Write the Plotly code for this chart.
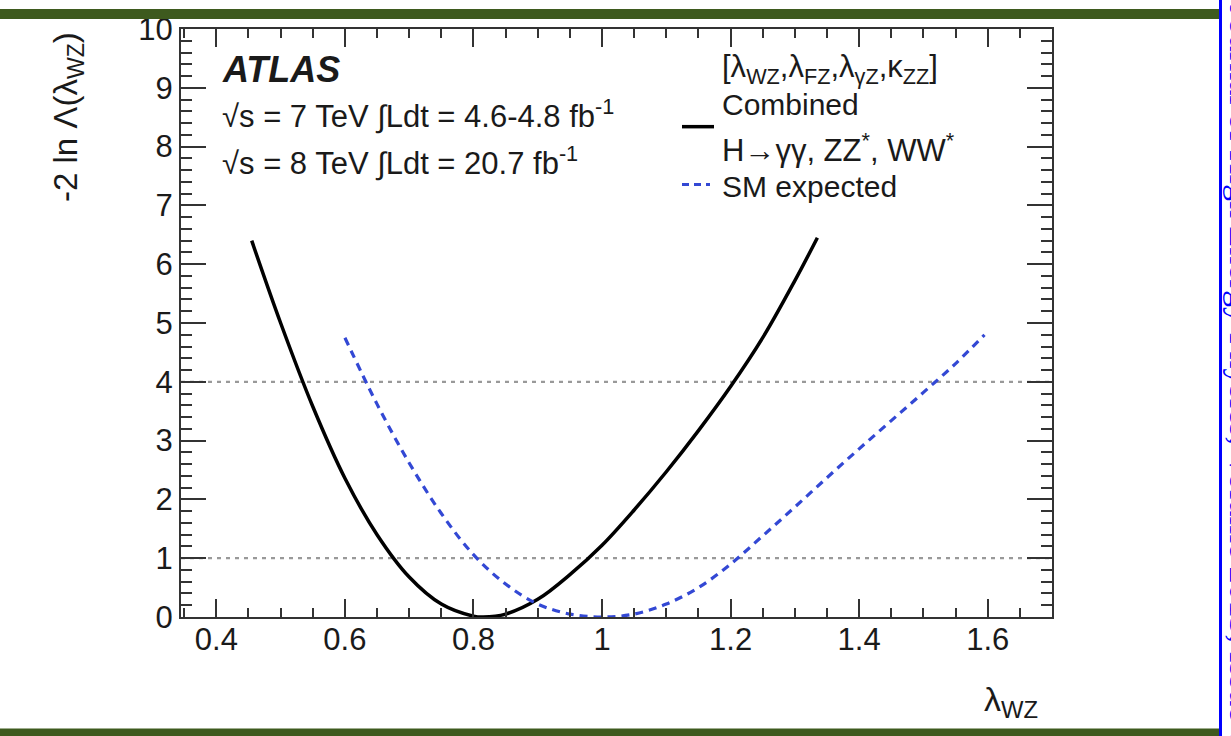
import plotly.graph_objects as go

# ---------------- data ----------------
combined_x = [0.455, 0.50, 0.55, 0.60, 0.65, 0.70, 0.75, 0.80, 0.815, 0.85, 0.90,
              0.95, 1.00, 1.05, 1.10, 1.15, 1.20, 1.25, 1.30, 1.335]
combined_y = [6.40, 5.00, 3.58, 2.36, 1.40, 0.68, 0.22, 0.015, 0.0, 0.05, 0.30,
              0.72, 1.22, 1.82, 2.47, 3.17, 3.92, 4.75, 5.72, 6.45]

expected_x = [0.60, 0.65, 0.70, 0.75, 0.80, 0.85, 0.90, 0.95, 1.00, 1.05, 1.10,
              1.15, 1.20, 1.25, 1.30, 1.35, 1.40, 1.45, 1.50, 1.55, 1.595]
expected_y = [4.75, 3.62, 2.62, 1.76, 1.06, 0.56, 0.22, 0.05, 0.0, 0.05, 0.22,
              0.50, 0.90, 1.38, 1.87, 2.37, 2.86, 3.34, 3.82, 4.31, 4.80]

ref_levels = [1, 4]

x_ticks = [0.4, 0.6, 0.8, 1.0, 1.2, 1.4, 1.6]
x_tick_labels = ["0.4", "0.6", "0.8", "1", "1.2", "1.4", "1.6"]
y_ticks = [0, 1, 2, 3, 4, 5, 6, 7, 8, 9, 10]
y_tick_labels = [str(v) for v in y_ticks]

series_names = ["Combined", "SM expected"]

# ---------------- layout helpers ----------------
W, H = 1231, 736
L, R, T, B = 181, 1052, 27, 617


def px(xp):
    return (xp - L) / (R - L)


def py(yp):
    return (B - yp) / (B - T)


FONT = "Liberation Sans, Arial, Helvetica, sans-serif"
AXC = "#333333"
BLUE = "#3348d4"

fig = go.Figure()
fig.add_trace(go.Scatter(x=combined_x, y=combined_y, mode="lines", name=series_names[0],
                         line=dict(color="black", width=3.5, shape="spline", smoothing=1.0)))
fig.add_trace(go.Scatter(x=expected_x, y=expected_y, mode="lines", name=series_names[1],
                         line=dict(color=BLUE, width=3.2, dash="8px,6px", shape="spline", smoothing=1.0)))

shapes = []
for lv in ref_levels:
    shapes.append(dict(type="line", xref="paper", yref="y", x0=0, x1=1, y0=lv, y1=lv,
                       line=dict(color="#999999", width=2.2, dash="4px,5px"), layer="below"))
# legend samples
shapes.append(dict(type="line", xref="paper", yref="paper", x0=px(682), x1=px(714),
                   y0=py(125), y1=py(125), line=dict(color="black", width=3.5)))
shapes.append(dict(type="line", xref="paper", yref="paper", x0=px(682), x1=px(710),
                   y0=py(183), y1=py(183), line=dict(color=BLUE, width=3, dash="7px,5px")))
# page decoration: green bands and blue strip
GREEN = "#3e5a1e"
shapes.append(dict(type="rect", xref="paper", yref="paper", x0=px(-5), x1=px(1220),
                   y0=py(17), y1=py(7), fillcolor=GREEN, line=dict(width=0)))
shapes.append(dict(type="rect", xref="paper", yref="paper", x0=px(-5), x1=px(1220),
                   y0=py(740), y1=py(729), fillcolor=GREEN, line=dict(width=0)))
shapes.append(dict(type="line", xref="paper", yref="paper", x0=px(1220.5), x1=px(1220.5),
                   y0=py(-5), y1=py(740), line=dict(color="#0000ff", width=3)))

ann = []
ann.append(dict(text="-2 ln Λ(λ<sub>WZ</sub>)", x=px(68), y=py(28), xanchor="center",
                yanchor="top", textangle=-90, font=dict(size=33)))
ann.append(dict(text="λ<sub>WZ</sub>", x=px(1040), y=py(702), xanchor="right",
                yanchor="middle", font=dict(size=34)))
ann.append(dict(text="<b><i>ATLAS</i></b>", x=px(220), y=py(68), xanchor="left",
                yanchor="middle", font=dict(size=36)))
ann.append(dict(text="√s = 7 TeV ∫Ldt = 4.6-4.8 fb<sup>-1</sup>", x=px(220), y=py(112),
                xanchor="left", yanchor="middle", font=dict(size=31)))
ann.append(dict(text="√s = 8 TeV ∫Ldt = 20.7 fb<sup>-1</sup>", x=px(220), y=py(159),
                xanchor="left", yanchor="middle", font=dict(size=31)))
ann.append(dict(text="[λ<sub>WZ</sub>,λ<sub>FZ</sub>,λ<sub>γZ</sub>,κ<sub>ZZ</sub>]",
                x=px(720), y=py(67), xanchor="left", yanchor="middle", font=dict(size=31)))
ann.append(dict(text=series_names[0], x=px(720), y=py(103), xanchor="left", yanchor="middle",
                font=dict(size=30)))
ann.append(dict(text="H→γγ, ZZ<sup>*</sup>, WW<sup>*</sup>", x=px(720), y=py(146),
                xanchor="left", yanchor="middle", font=dict(size=31)))
ann.append(dict(text=series_names[1], x=px(720), y=py(185), xanchor="left", yanchor="middle",
                font=dict(size=30)))
ann.append(dict(text="Journal of High Energy Physics, Volume 2013, Issue 6, Article 12",
                x=px(1221), y=py(0),
                xanchor="left", yanchor="top", textangle=90, showarrow=False,
                font=dict(size=34, color="#0000ff", family="Liberation Serif, serif")))
for a in ann:
    a.setdefault("xref", "paper")
    a.setdefault("yref", "paper")
    a.setdefault("showarrow", False)

fig.update_layout(
    width=W, height=H,
    margin=dict(l=L, r=W - R, t=T, b=H - B, pad=0),
    paper_bgcolor="white", plot_bgcolor="white",
    font=dict(family=FONT, color="#1a1a1a", size=30),
    showlegend=False,
    shapes=shapes, annotations=ann,
    xaxis=dict(range=[0.345, 1.70], tickvals=x_ticks, ticktext=x_tick_labels,
               ticks="inside", ticklen=18, tickwidth=2, tickcolor=AXC,
               showline=True, linecolor=AXC, linewidth=2, mirror="ticks",
               showgrid=False, zeroline=False, tickfont=dict(size=31),
               ticklabelstandoff=-6,
               minor=dict(ticks="inside", ticklen=9, dtick=0.05, tick0=0.4,
                          tickwidth=1.5, tickcolor=AXC, showgrid=False)),
    yaxis=dict(range=[0, 10], tickvals=y_ticks, ticktext=y_tick_labels,
               ticks="inside", ticklen=25, tickwidth=2, tickcolor=AXC,
               showline=True, linecolor=AXC, linewidth=2, mirror="ticks",
               showgrid=False, zeroline=False, tickfont=dict(size=31),
               minor=dict(ticks="inside", ticklen=11, dtick=0.2, tick0=0,
                          tickwidth=1.5, tickcolor=AXC, showgrid=False)),
)

fig.write_html("out.html")
